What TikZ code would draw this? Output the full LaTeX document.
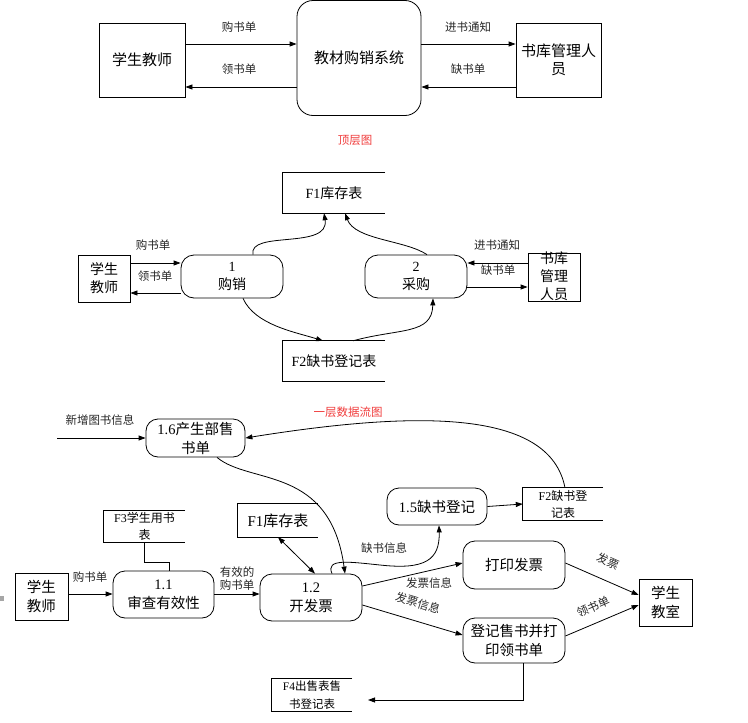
\documentclass[tikz,border=0pt]{standalone}
\usepackage{fontspec}
\setmainfont{Liberation Serif}
\newfontfamily\cjk{Noto Sans CJK SC}
\usetikzlibrary{arrows.meta}
\definecolor{tred}{RGB}{240,60,60}
\begin{document}
\begin{tikzpicture}[x=1pt,y=-1pt,
  every node/.style={inner sep=0pt, align=center},
  box/.style={draw, line width=0.8pt},
  proc/.style={draw, line width=0.8pt, rounded corners=12pt},
  fbig/.style={font=\cjk\fontsize{15}{18}\selectfont},
  fmid/.style={font=\cjk\fontsize{14}{18}\selectfont},
  fbot/.style={font=\cjk\fontsize{14.5}{19}\selectfont},
  fsm/.style={font=\cjk\fontsize{12}{17}\selectfont},
  lab/.style={font=\cjk\fontsize{11.5}{13}\selectfont, text=black!85},
  rlab/.style={font=\cjk\fontsize{11.5}{13}\selectfont, text=tred},
  arr/.style={-{Triangle[length=7pt,width=5pt]}, line width=0.8pt},
  arrb/.style={{Triangle[length=7pt,width=5pt]}-{Triangle[length=7pt,width=5pt]}, line width=0.8pt},
  ln/.style={line width=0.8pt}]
\useasboundingbox (0,0) rectangle (748,723);

% ---------- top level ----------
\node[box, fbig, minimum width=86, minimum height=74] (ts) at (142,60) {学生教师};
\node[draw, line width=0.8pt, rounded corners=16pt, fbig, minimum width=124, minimum height=115] (tsys) at (359,58) {教材购销系统};
\node[box, fbig, minimum width=85, minimum height=74] (tm) at (558.5,60) {书库管理人\\员};
\draw[arr] (ts.east |- 0,44) -- (tsys.west |- 0,44);
\draw[arr] (tsys.west |- 0,87) -- (ts.east |- 0,87);
\draw[arr] (tsys.east |- 0,44) -- (tm.west |- 0,44);
\draw[arr] (tm.west |- 0,87) -- (tsys.east |- 0,87);
\node[lab] (tl1) at (239,27) {购书单};
\node[lab] (tl2) at (239,69) {领书单};
\node[lab] (tl3) at (468,27) {进书通知};
\node[lab] (tl4) at (468,69) {缺书单};
\node[rlab] (ttitle) at (355,140) {顶层图};

% ---------- middle ----------
\node[fmid, minimum width=102, minimum height=40] (mf1) at (334,193) {{\rmfamily F1}库存表};
\draw[ln] (mf1.north east) -| (mf1.south west) -- (mf1.south east);
\node[fmid, minimum width=102, minimum height=40] (mf2) at (334,361) {{\rmfamily F2}缺书登记表};
\draw[ln] (mf2.north east) -| (mf2.south west) -- (mf2.south east);
\node[box, fmid, minimum width=52, minimum height=47] (ms) at (104,278.5) {学生\\教师};
\node[proc, fmid, rounded corners=13pt, minimum width=102, minimum height=43] (mp1) at (232,276.5) {{\rmfamily 1}\\购销};
\node[proc, fmid, rounded corners=13pt, minimum width=102, minimum height=43] (mp2) at (416,276.5) {{\rmfamily 2}\\采购};
\node[box, minimum width=52, minimum height=48] (mm) at (554,277) {};
\node[fmid] (mmt) at (554,276) {书库\\管理\\人员};
\draw[arr] (ms.east |- 0,263) -- (mp1.west |- 0,263);
\draw[arr] (mp1.west |- 0,293) -- (ms.east |- 0,293);
\draw[arr] (mm.west |- 0,263) -- (mp2.east |- 0,263);
\draw[arr] (mp2.east |- 0,287) -- (mm.west |- 0,287);
\node[lab] (ml1) at (153,245) {购书单};
\node[lab] (ml2) at (155,276) {领书单};
\node[lab] (ml3) at (497,245) {进书通知};
\node[lab] (ml4) at (498,270) {缺书单};
\draw[arr] (mp1.north -| 253,0) .. controls (248,230) and (330,250) .. (mf1.south -| 324,0);
\draw[arr] (mp2.north -| 427,0) .. controls (405,240) and (355,240) .. (mf1.south -| 345,0);
\draw[arr] (mp1.south -| 243,0) .. controls (255,325) and (295,332) .. (mf2.north -| 323,0);
\draw[arr] (mf2.north -| 353,0) .. controls (400,328) and (432,335) .. (mp2.south -| 433,0);

% ---------- level one ----------
\node[rlab] (btitle) at (348,412) {一层数据流图};
\node[proc, fbot, minimum width=99, minimum height=38] (b16) at (195.5,438) {{\rmfamily 1.6}产生部售\\书单};
\node[lab] (bnew) at (100,420) {新增图书信息};
\coordinate (bnewin) at (57,438);
\draw[arr] (bnewin) -- (b16.west);

\node[fbig, minimum width=80, minimum height=33] (bf1) at (278,520.5) {{\rmfamily F1}库存表};
\draw[ln] (bf1.north east) -| (bf1.south west) -- (bf1.south east);
\node[fsm, minimum width=81, minimum height=31] (bf3) at (144.5,526.5) {{\rmfamily F3}学生用书\\表};
\draw[ln] (bf3.north east) -| (bf3.south west) -- (bf3.south east);
\node[fsm, minimum width=80, minimum height=32] (bf2) at (563,504) {{\rmfamily F2}缺书登\\记表};
\draw[ln] (bf2.north east) -| (bf2.south west) -- (bf2.south east);
\node[font=\cjk\fontsize{11.5}{18}\selectfont, minimum width=80, minimum height=32] (bf4) at (312,695) {{\rmfamily F4}出售表售\\书登记表};
\draw[ln] (bf4.north east) -| (bf4.south west) -- (bf4.south east);

\node[box, fbot, minimum width=53, minimum height=47] (bs) at (41.5,596.5) {学生\\教师};
\node[proc, fbot, minimum width=101, minimum height=47] (b11) at (163.5,594.5) {{\rmfamily 1.1}\\审查有效性};
\node[proc, fbot, minimum width=102, minimum height=47] (b12) at (311,597.5) {{\rmfamily 1.2}\\开发票};
\node[proc, fbot, minimum width=100, minimum height=37] (b15) at (437,506.5) {{\rmfamily 1.5}缺书登记};
\node[proc, fbot, minimum width=102, minimum height=48] (bpr) at (514,565) {打印发票};
\node[proc, fbot, minimum width=102, minimum height=45] (breg) at (514,640.5) {登记售书并打\\印领书单};
\node[box, fbot, minimum width=53, minimum height=47] (bse) at (665.5,602.5) {学生\\教室};

\draw[ln] (bf3.south) |- (169,562) -- (b11.north -| 169,0);
\draw[arrb] (bf1.south -| 278,0) -- (b12.north -| 315,0);
\draw[arr] (bs.east |- 0,594) -- (b11.west |- 0,594);
\draw[arr] (b11.east |- 0,594) -- (b12.west |- 0,594);
\node[lab] (bl1) at (90,577) {购书单};
\node[lab] (bl2) at (237,579) {有效的\\购书单};
\draw[arr] (b16.south -| 217,0) .. controls (250,485) and (330,465) .. (b12.north -| 345,0);
\draw[arr] (bf2.north -| 565,0) .. controls (550,410) and (420,410) .. (b16.east |- 0,438);
\draw[arr] (b12.north -| 332,0) .. controls (325,558) and (350,562) .. (380,565) .. controls (425,570) and (440,560) .. (b15.south -| 439,0);
\node[lab] (bl3) at (384,548) {缺书信息};
\draw[arr] (b15.east) -- (bf2.west);
\draw[arr] (b12.east |- 0,586) -- (bpr.west |- 0,563);
\draw[arr] (b12.east |- 0,605) -- (breg.west |- 0,635);
\node[lab] (bl4) at (429,583) {发票信息};
\node[lab, rotate=-17] (bl5) at (418,603) {发票信息};
\draw[arr] (bpr.east |- 0,563) -- (bse.west |- 0,595);
\draw[arr] (breg.east |- 0,636) -- (bse.west |- 0,605);
\node[lab, rotate=-24] (bl6) at (608,561) {发票};
\node[lab, rotate=24] (bl7) at (593,607) {领书单};
\coordinate (f4in) at (368,700);
\draw[arr] (breg.south -| 523,0) |- (f4in);
\fill[gray!70] (0,596) rectangle (4,601);
\end{tikzpicture}
\end{document}
